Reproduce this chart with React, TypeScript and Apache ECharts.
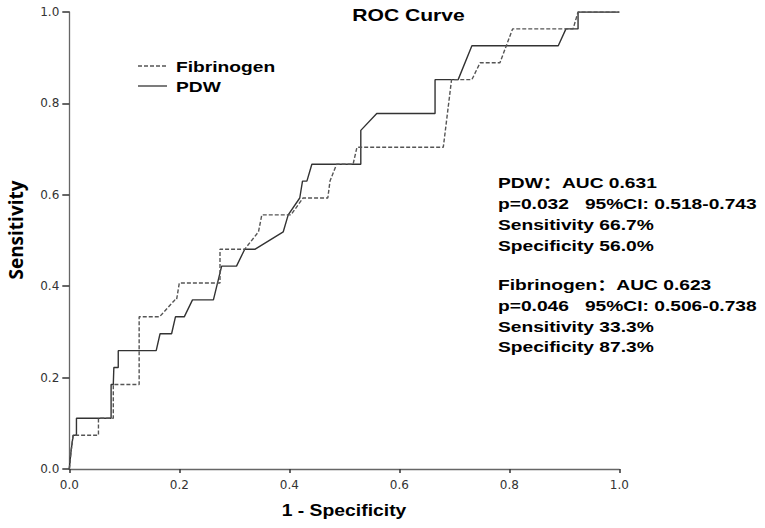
import React, { useEffect, useRef } from "react";
import * as echarts from "echarts";

// Axis ticks
const axisMin = 0;
const axisMax = 1;
const axisInterval = 0.2;

// PDW ROC curve (1 - specificity, sensitivity)
const pdwFpr = [0, 0.003, 0.007, 0.013, 0.013, 0.076, 0.076, 0.080, 0.081, 0.089, 0.089, 0.158, 0.165, 0.186, 0.193, 0.209, 0.224, 0.262, 0.277, 0.304, 0.319, 0.338, 0.389, 0.398, 0.419, 0.424, 0.432, 0.441, 0.530, 0.530, 0.559, 0.665, 0.665, 0.707, 0.732, 0.889, 0.903, 0.925, 0.925, 1.0];
const pdwTpr = [0, 0.037, 0.074, 0.074, 0.111, 0.111, 0.185, 0.185, 0.222, 0.222, 0.259, 0.259, 0.296, 0.296, 0.333, 0.333, 0.370, 0.370, 0.444, 0.444, 0.481, 0.481, 0.519, 0.556, 0.593, 0.630, 0.630, 0.667, 0.667, 0.741, 0.778, 0.778, 0.852, 0.852, 0.926, 0.926, 0.963, 0.963, 1.0, 1.0];

// Fibrinogen ROC curve
const fibFpr = [0, 0.003, 0.007, 0.053, 0.053, 0.080, 0.080, 0.127, 0.127, 0.164, 0.192, 0.195, 0.200, 0.274, 0.274, 0.319, 0.344, 0.350, 0.403, 0.425, 0.470, 0.474, 0.486, 0.516, 0.523, 0.680, 0.695, 0.732, 0.747, 0.783, 0.806, 0.916, 0.925, 1.0];
const fibTpr = [0, 0.037, 0.074, 0.074, 0.111, 0.111, 0.185, 0.185, 0.333, 0.333, 0.370, 0.370, 0.407, 0.407, 0.481, 0.481, 0.519, 0.556, 0.556, 0.593, 0.593, 0.630, 0.667, 0.667, 0.704, 0.704, 0.852, 0.852, 0.889, 0.889, 0.963, 0.963, 1.0, 1.0];

const seriesNames = ["Fibrinogen", "PDW"];
const titleText = "ROC Curve";
const xAxisTitle = "1 - Specificity";
const yAxisTitle = "Sensitivity";
const pdwStats = ["PDW：AUC 0.631", "p=0.032   95%CI: 0.518-0.743", "Sensitivity 66.7%", "Specificity 56.0%"];
const fibStats = ["Fibrinogen：AUC 0.623", "p=0.046   95%CI: 0.506-0.738", "Sensitivity 33.3%", "Specificity 87.3%"];

const FONT = '"Liberation Sans", Arial, "Noto Sans CJK SC", sans-serif';

function txt(text: string, x: number, y: number, size: number, scaleX: number, align: string = "left") {
  return {
    type: "text",
    x,
    y,
    scaleX,
    silent: true,
    style: {
      text,
      fill: "#000",
      fontSize: size,
      fontWeight: "bold",
      fontFamily: FONT,
      textAlign: align,
      textVerticalAlign: "middle",
      align,
      verticalAlign: "middle",
    },
  };
}

export default function App() {
  const ref = useRef<HTMLDivElement>(null);

  useEffect(() => {
    if (!ref.current) return;
    const chart = echarts.init(ref.current, undefined, { renderer: "svg" });

    const statX = 498;
    const graphics: any[] = [];
    graphics.push(txt(titleText, 408.5, 15, 16, 1.32, "center"));
    graphics.push(txt(xAxisTitle, 344, 511, 16, 1.21, "center"));
    graphics.push({
      type: "text",
      x: 16,
      y: 230,
      rotation: Math.PI / 2,
      silent: true,
      style: {
        text: yAxisTitle,
        fill: "#000",
        fontSize: 19,
        fontWeight: "bold",
        fontFamily: '"Open Sans", "Noto Sans", sans-serif',
        textAlign: "center",
        textVerticalAlign: "middle",
        align: "center",
        verticalAlign: "middle",
      },
    });
    // legend
    graphics.push({
      type: "line",
      silent: true,
      shape: { x1: 138, y1: 66, x2: 167, y2: 66 },
      style: { stroke: "#555", lineWidth: 1.3, lineDash: [4, 2] },
    });
    graphics.push({
      type: "line",
      silent: true,
      shape: { x1: 138, y1: 86, x2: 167, y2: 86 },
      style: { stroke: "#444", lineWidth: 1.4 },
    });
    graphics.push(txt(seriesNames[0], 176, 67, 15, 1.28));
    graphics.push(txt(seriesNames[1], 176, 87, 15, 1.28));
    const ys1 = [183, 204, 225, 246];
    const ys2 = [285, 306, 327, 347];
    pdwStats.forEach((s, i) => graphics.push(txt(s, statX, ys1[i], 15, 1.28)));
    fibStats.forEach((s, i) => graphics.push(txt(s, statX, ys2[i], 15, 1.28)));

    const axisCommon = {
      type: "value",
      min: axisMin,
      max: axisMax,
      interval: axisInterval,
      splitLine: { show: false },
      axisLine: { show: true, lineStyle: { color: "#666", width: 1.3 } },
      axisTick: { show: true, inside: false, lineStyle: { color: "#333", width: 1.5 } },
      axisLabel: {
        color: "#333",
        fontSize: 12,
        fontFamily: '"DejaVu Sans", sans-serif',
        margin: 10,
        formatter: (v: number) => v.toFixed(1),
      },
    };

    chart.setOption({
      animation: false,
      backgroundColor: "#fff",
      grid: { left: 69.3, right: 145.7, top: 12, bottom: 59, outerBoundsMode: "none", containLabel: false },
      xAxis: { ...axisCommon, axisTick: { ...axisCommon.axisTick, length: 4 } },
      yAxis: { ...axisCommon, axisTick: { ...axisCommon.axisTick, length: 7 } },
      series: [
        {
          name: seriesNames[0],
          type: "line",
          symbol: "none",
          showSymbol: false,
          data: fibFpr.map((x, i) => [x, fibTpr[i]]),
          lineStyle: { color: "#555", width: 1.4, type: [4, 2] },
          z: 3,
        },
        {
          name: seriesNames[1],
          type: "line",
          symbol: "none",
          showSymbol: false,
          data: pdwFpr.map((x, i) => [x, pdwTpr[i]]),
          lineStyle: { color: "#333", width: 1.4, type: "solid" },
          z: 2,
        },
      ],
      graphic: graphics,
    });

    return () => chart.dispose();
  }, []);

  return (
    <div
      ref={ref}
      style={{ position: "absolute", left: 0, top: 0, width: 765, height: 528 }}
    />
  );
}
